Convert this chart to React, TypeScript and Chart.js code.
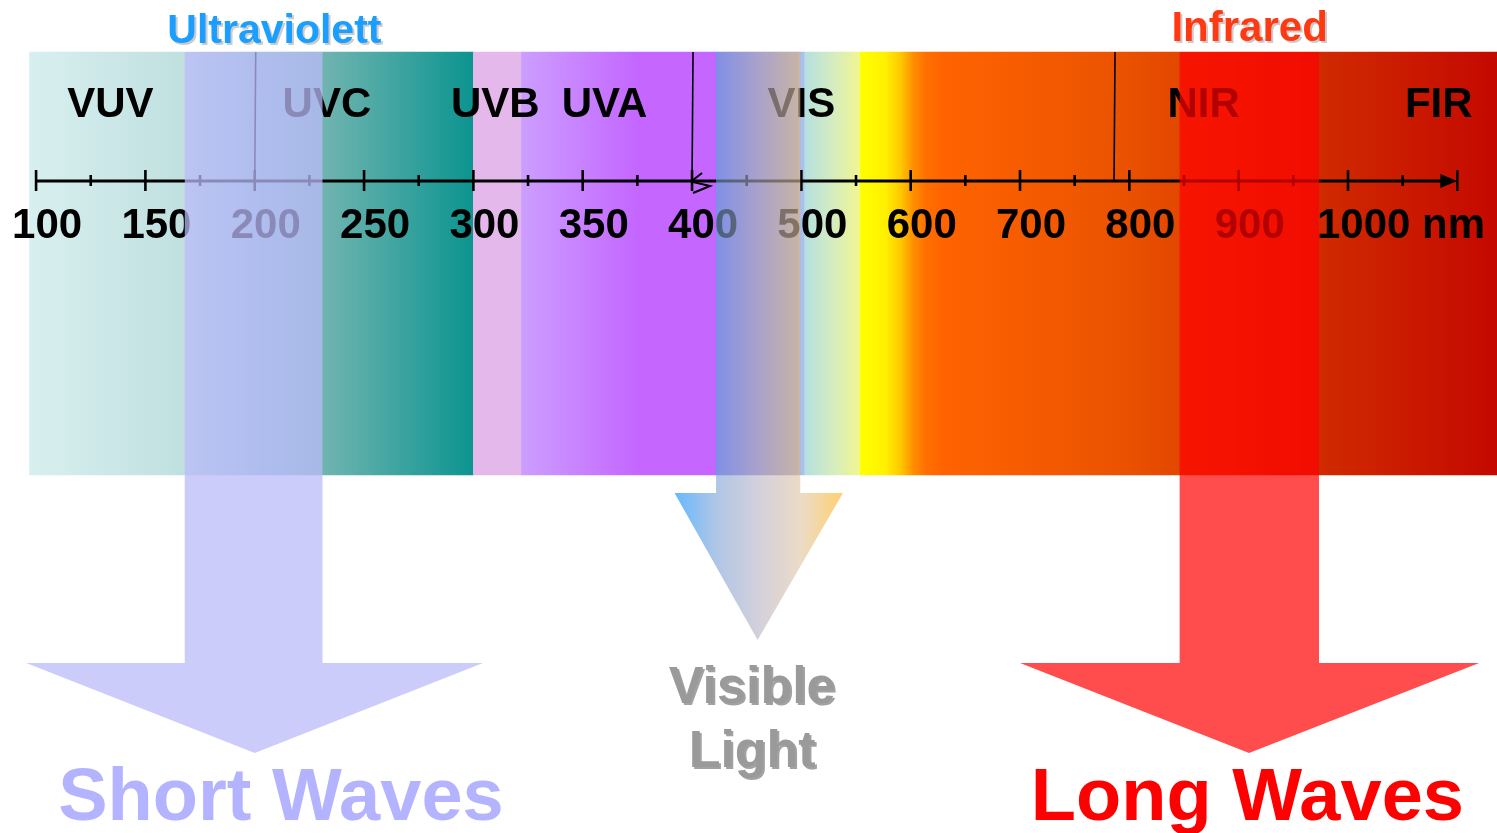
import React, { useEffect, useRef } from 'react';
import { Chart, registerables } from 'chart.js';

Chart.register(...registerables);

// ---------------- data ----------------
const TICK_NM = [100, 150, 200, 250, 300, 350, 400, 500, 600, 700, 800, 900, 1000];
const TICK_LABELS = ['100', '150', '200', '250', '300', '350', '400', '500', '600', '700', '800', '900', '1000 nm'];
const MINOR_TICK_NM = [125, 175, 225, 275, 325, 375, 450, 550, 650, 750, 850, 950, 1050];
const AXIS_END_NM = 1100;
const AXIS_BREAK_NM = 400;
const VIEW_FROM_NM = 83.5;
const VIEW_TO_NM = 1136.3;

const BAND_NAMES = ['VUV', 'UVC', 'UVB', 'UVA', 'Violet-Blue', 'Cyan-Green', 'Yellow-Red-IR'];
const BAND_FROM_NM = [97, 200, 300, 322, 422, 503, 554];
const BAND_TO_NM = [200, 300, 322, 422, 503, 554, 1140];

const REGION_LABELS = ['VUV', 'UVC', 'UVB', 'UVA', 'VIS', 'NIR', 'FIR'];
const REGION_LABEL_NM = [134, 233, 310, 360, 500, 868, 1083];

const DIVIDER_NM = [200, 400, 786];

const GROUP_TITLES = ['Ultraviolett', 'Infrared'];
const GROUP_TITLE_NM = [209, 910];

const ARROW_NAMES = ['Short Waves', 'Visible Light', 'Long Waves'];
const ARROW_SHAFT_FROM_NM = [168, 422, 846];
const ARROW_SHAFT_TO_NM = [231, 499, 973.5];
const ARROW_HEAD_FROM_NM = [95.5, 392, 700];
const ARROW_HEAD_TO_NM = [304.4, 538, 1120];
const ARROW_TIP_NM = [200, 460, 909.5];
const ARROW_TEXT_NM = [212, 455, 908];

// ---------------- styles ----------------
const FONT = "'Liberation Sans', Arial, sans-serif";
const BAND_GRADIENTS: [number, string][][] = [
  [[0, '#d8efef'], [0.687, '#c0e0e0'], [1, '#92c8d0']],
  [[0, '#92c8d0'], [0.315, '#70b4b0'], [1, '#0c9490']],
  [[0, '#e5b8ec'], [1, '#e5b8ec']],
  [[0, '#cc9eff'], [0.6, '#c466ff'], [1, '#c466ff']],
  [[0, '#8778ff'], [0.93, '#a79dab'], [0.96, '#a8c0f0'], [1, '#a8c0f0']],
  [[0, '#b5dfe0'], [0.5, '#d4ecc0'], [1, '#f2f68e']],
  [[0, '#ffff00'], [0.039, '#fff000'], [0.063, '#ffc800'], [0.082, '#ff9000'], [0.102, '#ff7000'], [0.126, '#ff6400'], [0.4, '#eb5300'], [0.722, '#d02a00'], [1, '#c40800']],
];
const VIS_ARROW_STOPS: [number, string][] = [
  [0, '#0089ff'], [0.25, '#7ba0d5'], [0.5, '#b7b1c5'], [0.75, '#dec3a0'], [1, '#ffb111'],
];
const Y = {
  bandTop: 52, bandBottom: 475, axis: 181, tickLabel: 238, regionLabel: 117, title: 43,
  headY: 663, tipY: 753, visHeadY: 493, visTipY: 640, arrowText: 820, visText1: 703, visText2: 767,
};

function nmToPos(nm: number): number {
  const t = TICK_NM;
  if (nm <= t[0]) return (nm - t[0]) / (t[1] - t[0]);
  for (let i = 1; i < t.length; i++) {
    if (nm <= t[i]) return i - 1 + (nm - t[i - 1]) / (t[i] - t[i - 1]);
  }
  const n = t.length - 1;
  return n + (nm - t[n]) / (t[n] - t[n - 1]);
}

function shadowText(ctx: CanvasRenderingContext2D, text: string, x: number, y: number, font: string, color: string, shadow: string | null, off = 2) {
  ctx.save();
  ctx.font = font;
  ctx.textAlign = 'center';
  ctx.textBaseline = 'alphabetic';
  if (shadow) {
    ctx.fillStyle = shadow;
    ctx.fillText(text, x + off, y + off);
  }
  ctx.fillStyle = color;
  ctx.fillText(text, x, y);
  ctx.restore();
}

const overlayPlugin = {
  id: 'spectrumOverlay',
  afterDatasetsDraw(chart: any) {
    const { ctx, scales } = chart;
    const xs = scales.x;
    const ys = scales.y;
    const px = (nm: number) => xs.getPixelForValue(nmToPos(nm));
    const py = (v: number) => ys.getPixelForValue(v);
    ctx.save();

    // divider lines
    ctx.strokeStyle = '#000';
    ctx.lineWidth = 1.6;
    DIVIDER_NM.forEach((nm) => {
      ctx.beginPath();
      ctx.moveTo(px(nm) + 1, py(Y.bandTop));
      ctx.lineTo(px(nm), py(Y.axis));
      ctx.stroke();
    });

    // axis line with arrow
    const ay = py(Y.axis);
    const x0 = px(TICK_NM[0]);
    const xe = px(AXIS_END_NM);
    ctx.lineWidth = 3;
    ctx.beginPath();
    ctx.moveTo(x0, ay);
    ctx.lineTo(xe - 12, ay);
    ctx.stroke();
    ctx.fillStyle = '#000';
    ctx.beginPath();
    ctx.moveTo(xe - 17, ay - 7);
    ctx.lineTo(xe, ay);
    ctx.lineTo(xe - 17, ay + 7);
    ctx.closePath();
    ctx.fill();
    ctx.lineWidth = 2.5;
    ctx.beginPath();
    ctx.moveTo(xe, ay - 11);
    ctx.lineTo(xe, ay + 10);
    ctx.stroke();

    // ticks
    ctx.lineWidth = 2.6;
    TICK_NM.forEach((nm) => {
      const x = px(nm);
      ctx.beginPath();
      ctx.moveTo(x, ay - 11);
      ctx.lineTo(x, ay + 10);
      ctx.stroke();
    });
    MINOR_TICK_NM.forEach((nm) => {
      const x = px(nm);
      ctx.beginPath();
      ctx.moveTo(x, ay - 6);
      ctx.lineTo(x, ay + 5);
      ctx.stroke();
    });

    // axis break symbol
    const bx = px(AXIS_BREAK_NM);
    ctx.lineWidth = 2;
    ctx.beginPath();
    ctx.moveTo(bx + 1, ay - 1);
    ctx.lineTo(bx + 10, ay - 8);
    ctx.moveTo(bx + 1, ay + 1);
    ctx.lineTo(bx + 18, ay + 5);
    ctx.lineTo(bx + 1, ay + 12);
    ctx.stroke();

    // tick labels
    ctx.font = `bold 42px ${FONT}`;
    ctx.textAlign = 'left';
    ctx.textBaseline = 'alphabetic';
    ctx.fillStyle = '#000';
    TICK_LABELS.forEach((lab, i) => {
      const off = lab.length > 4 ? 31 : 24;
      ctx.fillText(lab, px(TICK_NM[i]) - off, py(Y.tickLabel));
    });

    // region labels
    ctx.textAlign = 'center';
    REGION_LABELS.forEach((lab, i) => {
      ctx.fillText(lab, px(REGION_LABEL_NM[i]), py(Y.regionLabel));
    });

    // arrows
    const arrowPath = (i: number, headY: number, tipY: number) => {
      ctx.beginPath();
      ctx.moveTo(px(ARROW_SHAFT_FROM_NM[i]), py(Y.bandTop));
      ctx.lineTo(px(ARROW_SHAFT_TO_NM[i]), py(Y.bandTop));
      ctx.lineTo(px(ARROW_SHAFT_TO_NM[i]), py(headY));
      ctx.lineTo(px(ARROW_HEAD_TO_NM[i]), py(headY));
      ctx.lineTo(px(ARROW_TIP_NM[i]), py(tipY));
      ctx.lineTo(px(ARROW_HEAD_FROM_NM[i]), py(headY));
      ctx.lineTo(px(ARROW_SHAFT_FROM_NM[i]), py(headY));
      ctx.closePath();
    };

    // short waves
    arrowPath(0, Y.headY, Y.tipY);
    ctx.fillStyle = 'rgba(186,186,249,0.74)';
    ctx.fill();

    // visible light
    const g = ctx.createLinearGradient(px(ARROW_HEAD_FROM_NM[1]), 0, px(ARROW_HEAD_TO_NM[1]), 0);
    VIS_ARROW_STOPS.forEach(([o, c]) => g.addColorStop(o, c));
    ctx.save();
    arrowPath(1, Y.visHeadY, Y.visTipY);
    ctx.globalAlpha = 0.6;
    ctx.fillStyle = g;
    ctx.fill();
    ctx.restore();

    // long waves
    arrowPath(2, Y.headY, Y.tipY);
    ctx.fillStyle = 'rgba(255,0,0,0.7)';
    ctx.fill();

    // titles
    shadowText(ctx, GROUP_TITLES[0], px(GROUP_TITLE_NM[0]), py(Y.title), `bold 41px ${FONT}`, '#1a9eff', 'rgba(160,160,160,0.55)');
    shadowText(ctx, GROUP_TITLES[1], px(GROUP_TITLE_NM[1]), py(Y.title - 2), `bold 42px ${FONT}`, '#ff3a12', 'rgba(160,160,160,0.55)');

    // arrow texts
    shadowText(ctx, ARROW_NAMES[0], px(ARROW_TEXT_NM[0]), py(Y.arrowText), `bold 74px ${FONT}`, '#b3b3ff', null);
    shadowText(ctx, ARROW_NAMES[2], px(ARROW_TEXT_NM[2]), py(Y.arrowText), `bold 74px ${FONT}`, '#ff0000', null);
    const [w1, w2] = ARROW_NAMES[1].split(' ');
    shadowText(ctx, w1, px(ARROW_TEXT_NM[1]), py(Y.visText1), `bold 52px ${FONT}`, '#9a9a9a', 'rgba(100,100,100,0.6)', 2);
    shadowText(ctx, w2, px(ARROW_TEXT_NM[1]), py(Y.visText2), `bold 52px ${FONT}`, '#9a9a9a', 'rgba(100,100,100,0.6)', 2);

    ctx.restore();
  },
};

export default function App() {
  const canvasRef = useRef<HTMLCanvasElement | null>(null);

  useEffect(() => {
    document.body.style.margin = '0';
    document.body.style.overflow = 'hidden';
    const canvas = canvasRef.current;
    if (!canvas) return;
    const bandCenter = (Y.bandTop + Y.bandBottom) / 2;
    const bandThickness = Y.bandBottom - Y.bandTop;
    const chart = new Chart(canvas, {
      type: 'bar',
      data: {
        datasets: [
          {
            label: 'Spectrum',
            data: BAND_FROM_NM.map((f, i) => ({ x: [nmToPos(f), nmToPos(BAND_TO_NM[i])], y: bandCenter })) as any,
            backgroundColor: (c: any) => {
              if (c.type !== 'data' || c.dataIndex == null) return '#ccc';
              const xs = c.chart.scales.x;
              if (!xs) return '#ccc';
              const i = c.dataIndex;
              const a = xs.getPixelForValue(nmToPos(BAND_FROM_NM[i]));
              const b = xs.getPixelForValue(nmToPos(BAND_TO_NM[i]));
              if (!isFinite(a) || !isFinite(b) || a === b) return BAND_GRADIENTS[i][0][1];
              const gr = c.chart.ctx.createLinearGradient(a, 0, b, 0);
              BAND_GRADIENTS[i].forEach(([o, col]) => gr.addColorStop(o, col));
              return gr;
            },
            borderWidth: 0,
            barThickness: bandThickness,
            grouped: false,
          } as any,
        ],
      },
      options: {
        animation: false,
        responsive: false,
        indexAxis: 'y',
        events: [],
        layout: { padding: 0 },
        plugins: { legend: { display: false }, tooltip: { enabled: false } },
        scales: {
          x: { type: 'linear', min: nmToPos(VIEW_FROM_NM), max: nmToPos(VIEW_TO_NM), offset: false, display: false },
          y: { type: 'linear', min: 0, max: 833, reverse: true, offset: false, display: false },
        },
      } as any,
      plugins: [overlayPlugin],
    });
    return () => chart.destroy();
  }, []);

  return (
    <div style={{ width: 1497, height: 833, background: '#fff' }}>
      <canvas ref={canvasRef} width={1497} height={833} style={{ display: 'block' }} />
    </div>
  );
}
